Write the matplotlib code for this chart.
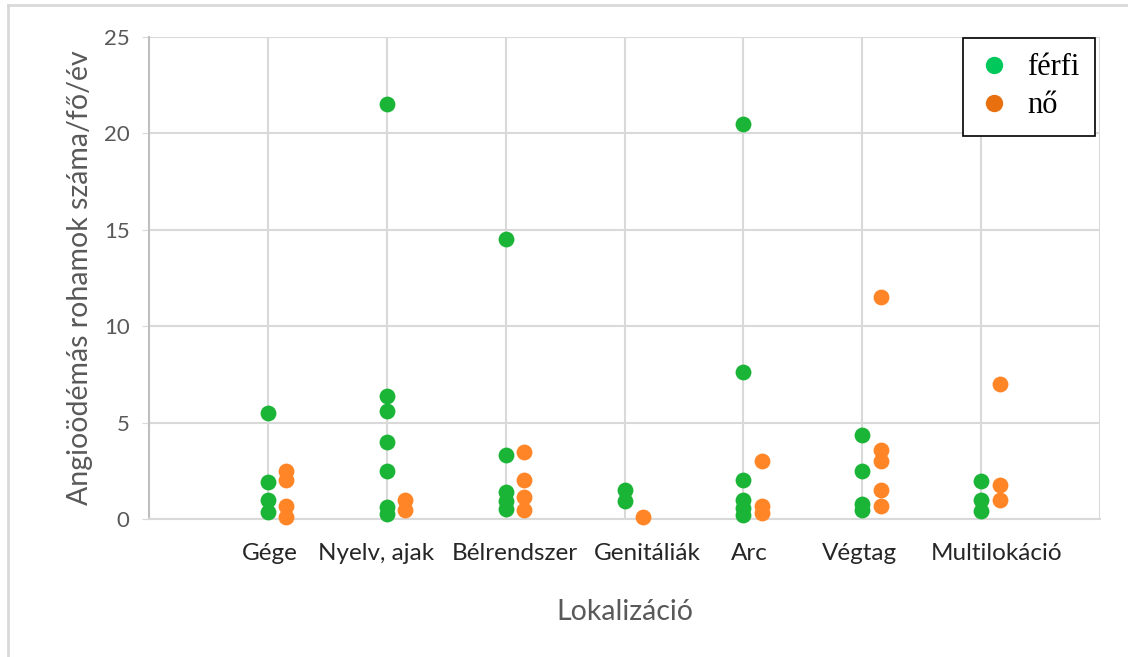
import matplotlib.pyplot as plt
from matplotlib.lines import Line2D

categories = ["Gége", "Nyelv, ajak", "Bélrendszer", "Genitáliák", "Arc", "Végtag", "Multilokáció"]

# rohamok száma/fő/év, kategóriánként
ferfi = [
    [5.5, 1.9, 1.0, 0.35],
    [21.5, 6.4, 5.6, 4.0, 2.5, 0.6, 0.25],
    [14.5, 3.3, 1.4, 0.95, 0.5],
    [1.5, 0.95],
    [20.5, 7.6, 2.0, 1.0, 0.55, 0.2],
    [4.35, 2.5, 0.8, 0.45],
    [1.95, 1.0, 0.4],
]
no = [
    [2.5, 2.0, 0.7, 0.1],
    [1.0, 0.45],
    [3.45, 2.0, 1.15, 0.45],
    [0.1],
    [3.0, 0.65, 0.3],
    [11.5, 3.6, 3.0, 1.5, 0.7],
    [7.0, 1.75, 1.0],
]

# manually placed category labels (x in data units)
label_pos = [1.02, 1.91, 3.08, 4.19, 5.05, 5.98, 7.13]
no_offset = 0.155

green = "#1ab437"
orange = "#ff8527"
grid_col = "#d9d9d9"
text_gray = "#595959"

plt.rcParams["font.family"] = ["Lato", "DejaVu Sans"]

fig = plt.figure(figsize=(11.28, 6.57), dpi=100)
ax = fig.add_axes([149 / 1128, 138 / 657, 951 / 1128, 482 / 657])

for i, vals in enumerate(ferfi):
    ax.scatter([i + 1] * len(vals), vals, s=130, color=green, lw=0, zorder=3, clip_on=False)
for i, vals in enumerate(no):
    ax.scatter([i + 1 + no_offset] * len(vals), vals, s=130, color=orange, lw=0, zorder=3, clip_on=False)

ax.set_xlim(0, 8)
ax.set_ylim(0, 25)
ax.set_yticks(range(0, 26, 5))
ax.set_xticks(range(0, 9))
ax.set_xticklabels([])
ax.tick_params(axis="x", length=0)
ax.tick_params(axis="y", length=5, color=grid_col, labelsize=16, labelcolor=text_gray, pad=9)
ax.grid(True, color=grid_col, lw=1.5, zorder=0)
for s in ["top", "right"]:
    ax.spines[s].set_visible(False)
ax.spines["left"].set_color("#bfbfbf")
ax.spines["bottom"].set_color(grid_col)
ax.spines["left"].set_linewidth(1.5)
ax.spines["bottom"].set_linewidth(1.5)

for x, name in zip(label_pos, categories):
    ax.text(x, -1.8, name, ha="center", va="center", fontsize=17.5, color="#262626")

ax.text(4.0, -4.8, "Lokalizáció", ha="center", va="center", fontsize=20.5, color=text_gray)
ax.set_ylabel("Angioödémás rohamok száma/fő/év", fontsize=20.5, color=text_gray, labelpad=8)

handles = [
    Line2D([], [], marker="o", ls="", markersize=12.5, markerfacecolor="#00c85a", markeredgewidth=0),
    Line2D([], [], marker="o", ls="", markersize=12.5, markerfacecolor="#e8700f", markeredgewidth=0),
]
leg = ax.legend(
    handles, ["férfi", "nő"],
    loc="upper right", bbox_to_anchor=(1095 / 1128, 1 - 38 / 657), bbox_transform=fig.transFigure,
    prop={"family": "Liberation Serif", "size": 22}, fancybox=False, framealpha=1,
    edgecolor="black", borderpad=0.5, handletextpad=0.6, labelspacing=0.3, handlelength=1.0,
    borderaxespad=0,
)
leg.get_frame().set_linewidth(1.2)
leg.set_zorder(5)

# outer frame of the original picture
fig.add_artist(Line2D([8 / 1128, 8 / 1128], [0, 1 - 5 / 657], color=grid_col, lw=2))
fig.add_artist(Line2D([8 / 1128, 1], [1 - 5 / 657, 1 - 5 / 657], color=grid_col, lw=2))

fig.savefig("out.png", dpi=100)
